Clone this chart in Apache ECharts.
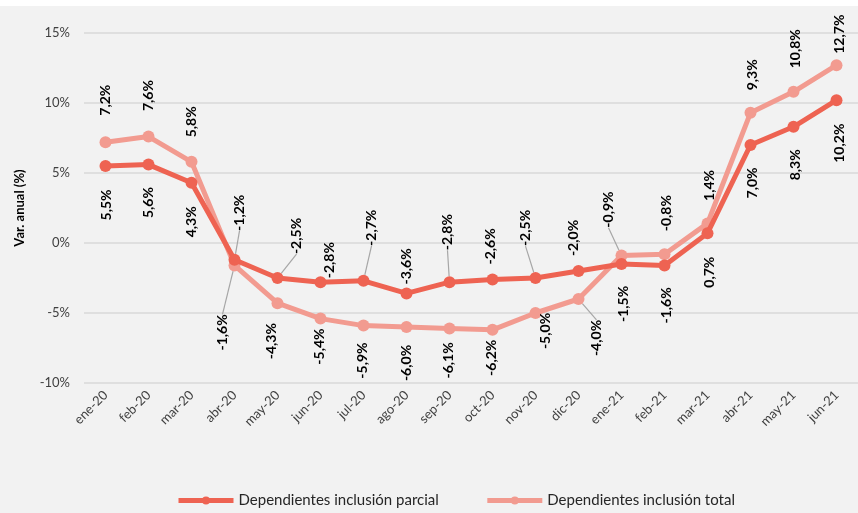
<!DOCTYPE html>
<html>
<head>
<meta charset="utf-8">
<script src="https://cdn.jsdelivr.net/npm/echarts@6/dist/echarts.min.js"></script>
<style>
html,body{margin:0;padding:0;background:#ffffff;}
#chart{position:absolute;left:0;top:6px;width:858px;height:507px;background:#f2f2f2;}
</style>
</head>
<body>
<div id="chart"></div>
<script>
const categories = ['ene-20','feb-20','mar-20','abr-20','may-20','jun-20','jul-20','ago-20','sep-20','oct-20','nov-20','dic-20','ene-21','feb-21','mar-21','abr-21','may-21','jun-21'];
const parcial = [5.5, 5.6, 4.3, -1.2, -2.5, -2.8, -2.7, -3.6, -2.8, -2.6, -2.5, -2.0, -1.5, -1.6, 0.7, 7.0, 8.3, 10.2];
const total = [7.2, 7.6, 5.8, -1.6, -4.3, -5.4, -5.9, -6.0, -6.1, -6.2, -5.0, -4.0, -0.9, -0.8, 1.4, 9.3, 10.8, 12.7];
const yTicks = {min: -10, max: 15, interval: 5};

// label placement (pixel shifts from point to label centre), styling only
const parcialLabelShift = [[1,39],[0,38],[0,39],[5,-47],[19,-42],[9,-22],[8,-53],[0,-27],[-2,-50],[-2,-33],[-10,-50],[-5,-33],[2,40],[2,40],[2,39],[2,38],[2,38],[3,43]];
const totalLabelShift = [[0,-42],[0,-41],[0,-40],[-12,67],[-6,38],[-1,28],[-1,35],[0,36],[-1,32],[-1,28],[10,18],[18,39],[-13,-46],[2,-41],[2,-38],[2,-38],[2,-43],[3,-31]];
const parcialLeader = [3,4,6,8,10];
const totalLeader = [3,11,12];

const FONT = 'Lato, "Open Sans", sans-serif';
const fmt = v => (v.toFixed(1).replace('.', ',')) + '%';

function buildData(vals, leaders){
  return vals.map((v,i) => ({
    value: v,
    labelLine: {show: leaders.indexOf(i) >= 0}
  }));
}

const chart = echarts.init(document.getElementById('chart'), null, {renderer:'canvas'});

function layoutFor(vals, shifts){
  return function(p){
    const pt = chart.convertToPixel({xAxisIndex: 0, yAxisIndex: 0}, [p.dataIndex, vals[p.dataIndex]]);
    const s = shifts[p.dataIndex];
    return {x: pt[0] + s[0], y: pt[1] + s[1], rotate: 90, align: 'center', verticalAlign: 'middle'};
  };
}

const labelBase = {
  show: true, position: 'inside',
  formatter: p => fmt(p.value),
  fontFamily: FONT, fontSize: 14, fontWeight: 'bold', color: '#000'
};

const option = {
  backgroundColor: '#f2f2f2',
  animation: false,
  textStyle: {fontFamily: FONT},
  grid: {left: 84, top: 27, width: 777, height: 350, containLabel: false},
  legend: {
    bottom: 0, left: 171,
    itemWidth: 55, itemHeight: 10, itemGap: 46,
    lineStyle: {width: 5},
    textStyle: {fontFamily: FONT, fontSize: 15, color: '#262626'},
    data: ['Dependientes inclusión parcial', 'Dependientes inclusión total']
  },
  xAxis: {
    type: 'category',
    data: categories,
    boundaryGap: true,
    axisLine: {show: false},
    axisTick: {show: false},
    axisLabel: {rotate: 45, fontSize: 13, color: '#404040', margin: 10, fontFamily: FONT}
  },
  yAxis: {
    type: 'value',
    min: yTicks.min, max: yTicks.max, interval: yTicks.interval,
    name: 'Var. anual (%)',
    nameLocation: 'middle',
    nameGap: 58,
    nameTextStyle: {fontFamily: FONT, fontSize: 13, fontWeight: 'bold', color: '#000'},
    axisLine: {show: false},
    axisTick: {show: false},
    axisLabel: {formatter: '{value}%', fontSize: 13, color: '#404040', margin: 14, fontFamily: FONT},
    splitLine: {lineStyle: {color: '#d9d9d9', width: 1.5}}
  },
  series: [
    {
      name: 'Dependientes inclusión parcial',
      type: 'line',
      data: buildData(parcial, parcialLeader),
      color: '#ee6352',
      lineStyle: {width: 5, color: '#ee6352'},
      symbol: 'circle', symbolSize: 12,
      itemStyle: {color: '#ee6352'},
      z: 3,
      label: labelBase,
      labelLine: {lineStyle: {color: '#a6a6a6', width: 1.2}},
      labelLayout: layoutFor(parcial, parcialLabelShift)
    },
    {
      name: 'Dependientes inclusión total',
      type: 'line',
      data: buildData(total, totalLeader),
      color: '#f29b90',
      lineStyle: {width: 5, color: '#f29b90'},
      symbol: 'circle', symbolSize: 12,
      itemStyle: {color: '#f29b90'},
      z: 2,
      label: labelBase,
      labelLine: {lineStyle: {color: '#a6a6a6', width: 1.2}},
      labelLayout: layoutFor(total, totalLabelShift)
    }
  ]
};
chart.setOption(option);
</script>
</body>
</html>
